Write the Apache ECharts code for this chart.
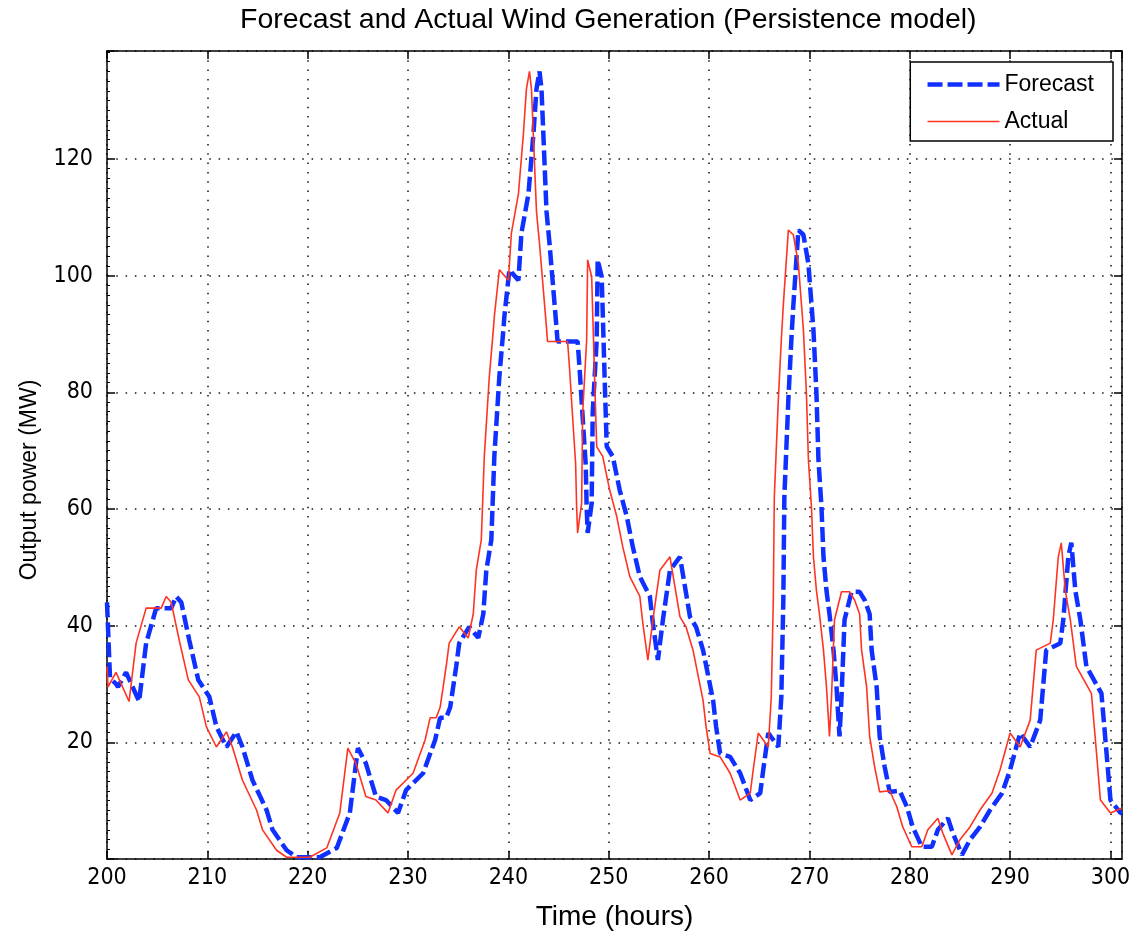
<!DOCTYPE html>
<html>
<head>
<meta charset="utf-8">
<script src="https://cdn.jsdelivr.net/npm/echarts@6/dist/echarts.min.js"></script>
<style>
  html, body { margin: 0; padding: 0; background: #fff; }
  #chart { width: 1136px; height: 939px; }
</style>
</head>
<body>
<div id="chart"></div>
<script>
// hours / MW (sub-hour steps where the trace jumps)
const actualHours = [200.0, 200.1, 200.9, 202.2, 202.9, 203.9, 205.4, 205.9, 206.4, 207.2, 208.1, 209.2, 209.9, 210.9, 211.9, 212.5, 213.5, 214.9, 215.5, 216.9, 217.9, 220.2, 221.9, 223.2, 224.0, 224.8, 225.8, 226.8, 228.0, 228.8, 230.5, 231.7, 232.2, 232.8, 233.2, 233.8, 234.1, 235.1, 236.0, 236.5, 236.8, 237.3, 237.6, 238.1, 238.5, 238.6, 239.1, 240.0, 240.3, 241.0, 241.5, 241.8, 242.1, 242.3, 242.8, 243.1, 243.8, 243.9, 245.9, 246.1, 246.4, 246.7, 246.8, 246.9, 247.3, 247.4, 247.8, 247.9, 248.3, 248.6, 248.8, 249.4, 250.1, 250.8, 251.4, 252.1, 253.1, 253.4, 253.9, 254.4, 255.1, 256.1, 256.7, 257.1, 257.7, 258.4, 259.4, 259.7, 260.1, 261.1, 262.1, 263.1, 264.1, 264.4, 264.9, 265.9, 266.2, 266.4, 266.5, 266.9, 267.2, 267.4, 267.9, 268.4, 268.9, 269.4, 269.7, 269.9, 270.2, 270.4, 270.7, 271.0, 271.4, 271.7, 272.0, 272.2, 272.5, 273.2, 274.0, 274.5, 275.0, 275.2, 275.7, 276.0, 276.5, 277.0, 278.0, 278.7, 279.3, 280.2, 281.2, 281.8, 282.8, 283.3, 284.2, 285.0, 286.0, 287.0, 288.2, 289.0, 290.0, 291.0, 292.0, 292.6, 293.3, 294.0, 294.3, 294.8, 295.1, 295.5, 296.0, 296.6, 298.1, 298.5, 299.0, 300.0, 301.1];
const actualMW = [33, 29.5, 32, 27, 37, 43, 43, 45, 44, 37.5, 30.7, 27.8, 22.7, 19.2, 21.8, 19.2, 13.5, 8.4, 5, 1.5, 0.3, 0.3, 1.9, 7.9, 19, 16.4, 10.7, 10.1, 7.9, 11.8, 14.7, 20.4, 24.2, 24.2, 26, 33, 37, 39.8, 37.9, 42, 49.5, 54.7, 69, 82.7, 90.7, 93, 101, 99.2, 107.3, 114, 124.4, 132, 135, 132, 111, 105.5, 91, 88.7, 88.7, 84, 75.8, 67.8, 60.4, 55.9, 61, 76.4, 89, 102.7, 99.8, 82, 70.7, 69, 63.2, 58.7, 53.5, 48.4, 45, 40.4, 34.1, 41, 49.5, 51.8, 45.6, 41.5, 39.8, 35.8, 27.2, 22.7, 18.1, 17.5, 14.7, 10.1, 11.3, 15.3, 21.6, 19.2, 27.8, 44.4, 62, 78.7, 89, 95, 107.8, 107, 102, 90.7, 79.8, 68.4, 60.4, 51.8, 46, 42, 35.8, 29.5, 21, 27.8, 41, 45.8, 45.8, 44.4, 42, 35.8, 29.5, 21, 15.8, 11.5, 11.7, 9, 5.5, 2.1, 2.1, 5, 7, 4.4, 0.7, 3.3, 5.5, 8.4, 11.3, 15.3, 21.6, 19.2, 23.8, 35.8, 36.4, 37, 41, 51.8, 54.2, 46, 41, 33, 28.4, 20.4, 10.1, 7.9, 8.7];

const forecastHours = [200.0, 200.3, 200.9, 201.1, 201.9, 203.2, 203.9, 204.9, 206.4, 206.9, 207.4, 208.2, 209.1, 210.2, 210.9, 211.9, 212.9, 213.5, 214.5, 215.9, 216.5, 217.9, 218.9, 221.2, 222.9, 224.2, 225.0, 225.8, 226.8, 227.8, 229.0, 229.8, 231.5, 232.7, 233.2, 233.8, 234.2, 234.8, 235.1, 236.1, 237.0, 237.5, 237.8, 238.3, 238.6, 239.1, 239.5, 239.6, 240.1, 241.0, 241.3, 242.0, 242.5, 242.8, 243.1, 243.3, 243.8, 244.1, 244.8, 244.9, 246.9, 247.1, 247.4, 247.7, 247.8, 247.9, 248.3, 248.4, 248.8, 248.9, 249.3, 249.6, 249.8, 250.4, 251.1, 251.8, 252.4, 253.1, 254.1, 254.4, 254.9, 255.4, 256.1, 257.1, 257.7, 258.1, 258.7, 259.4, 260.4, 260.7, 261.1, 262.1, 263.1, 264.1, 265.1, 265.4, 265.9, 266.9, 267.2, 267.4, 267.5, 267.9, 268.2, 268.4, 268.9, 269.4, 269.9, 270.4, 270.7, 270.9, 271.2, 271.4, 271.7, 272.0, 272.4, 272.7, 273.0, 273.2, 273.5, 274.2, 275.0, 275.5, 276.0, 276.2, 276.7, 277.0, 277.5, 278.0, 279.0, 279.7, 280.3, 281.2, 282.2, 282.8, 283.8, 284.3, 285.2, 286.0, 287.0, 288.0, 289.2, 290.0, 291.0, 292.0, 293.0, 293.6, 294.3, 295.0, 295.3, 295.8, 296.1, 296.5, 297.0, 297.6, 299.1, 299.5, 300.0, 301.0, 301.15];
const forecastMW = [44, 31, 30, 29.5, 32, 27, 37, 43, 43, 45, 44, 37.5, 30.7, 27.8, 22.7, 19.2, 21.8, 19.2, 13.5, 8.4, 5, 1.5, 0.3, 0.3, 1.9, 7.9, 19, 16.4, 10.7, 10.1, 7.9, 11.8, 14.7, 20.4, 24.2, 24.2, 26, 33, 37, 39.8, 37.9, 42, 49.5, 54.7, 69, 82.7, 90.7, 93, 101, 99.2, 107.3, 114, 124.4, 132, 135, 132, 111, 105.5, 91, 88.7, 88.7, 84, 75.8, 67.8, 60.4, 55.9, 61, 76.4, 89, 102.7, 99.8, 82, 70.7, 69, 63.2, 58.7, 53.5, 48.4, 45, 40.4, 34.1, 41, 49.5, 51.8, 45.6, 41.5, 39.8, 35.8, 27.2, 22.7, 18.1, 17.5, 14.7, 10.1, 11.3, 15.3, 21.6, 19.2, 27.8, 44.4, 62, 78.7, 89, 95, 107.8, 107, 102, 90.7, 79.8, 68.4, 60.4, 51.8, 46, 42, 35.8, 29.5, 21, 27.8, 41, 45.8, 45.8, 44.4, 42, 35.8, 29.5, 21, 15.8, 11.5, 11.7, 9, 5.5, 2.1, 2.1, 5, 7, 4.4, 0.7, 3.3, 5.5, 8.4, 11.3, 15.3, 21.6, 19.2, 23.8, 35.8, 36.4, 37, 41, 51.8, 54.2, 46, 41, 33, 28.4, 20.4, 10.1, 7.9, 7.9];

const xMin = 200, xMax = 301.15, xStep = 10;
const yMin = 0, yMax = 138.5, yStep = 20;

const sansFont = "'Liberation Sans', Arial, sans-serif";
const narrowFont = "'Liberation Sans Narrow', 'DejaVu Sans Condensed', sans-serif";

const blue = "#1030ff";
const red = "#ff3322";
const forecastLine = { color: blue, width: 4.5, type: [15, 5], cap: "butt" };
const actualLine = { color: red, width: 1.6 };

const pairs = (xs, ys) => xs.map((x, i) => [x, ys[i]]);

const gridDots = { show: true, lineStyle: { color: "#111", width: 1.5, type: [1.5, 7.8] } };

const chart = echarts.init(document.getElementById("chart"));
chart.setOption({
  animation: false,
  backgroundColor: "#fff",
  title: {
    text: "Forecast and Actual Wind Generation (Persistence model)",
    left: 240,
    top: 6,
    padding: 0,
    textStyle: { fontFamily: sansFont, fontSize: 28.5, fontWeight: "normal", color: "#000" },
  },
  legend: {
    orient: "vertical",
    right: 23,
    top: 62,
    padding: [11, 19, 8, 15],
    itemWidth: 72,
    itemHeight: 20,
    itemGap: 14,
    backgroundColor: "#fff",
    borderColor: "#000",
    borderWidth: 1.5,
    borderRadius: 0,
    itemStyle: { opacity: 0 },
    textStyle: { fontFamily: sansFont, fontSize: 23, color: "#000" },
    data: [
      { name: "Forecast", lineStyle: forecastLine },
      { name: "Actual", lineStyle: actualLine },
    ],
  },
  grid: { left: 107, right: 14, top: 51, bottom: 80, outerBoundsMode: "none" },
  xAxis: [
    {
      type: "value",
      min: xMin,
      max: xMax,
      interval: xStep,
      name: "Time (hours)",
      nameLocation: "middle",
      nameGap: 44,
      nameTextStyle: { fontFamily: sansFont, fontSize: 28, color: "#000" },
      axisLine: { show: true, onZero: false, lineStyle: { color: "#000", width: 1.5 } },
      axisTick: { show: true, inside: true, length: 8, lineStyle: { color: "#000", width: 1.5 } },
      axisLabel: { show: true, margin: 8, showMaxLabel: false, color: "#000", fontFamily: narrowFont, fontSize: 23 },
      splitLine: gridDots,
    },
    {
      type: "value",
      position: "top",
      min: xMin,
      max: xMax,
      interval: xStep,
      axisLine: { show: true, onZero: false, lineStyle: { color: "#000", width: 1.5 } },
      axisTick: { show: true, inside: true, length: 8, lineStyle: { color: "#000", width: 1.5 } },
      axisLabel: { show: false },
      splitLine: { show: false },
    },
  ],
  yAxis: [
    {
      type: "value",
      min: yMin,
      max: yMax,
      interval: yStep,
      name: "Output power (MW)",
      nameLocation: "middle",
      nameGap: 66,
      nameTextStyle: { fontFamily: sansFont, fontSize: 23, color: "#000", padding: [0, 50, 0, 0] },
      axisLine: { show: true, onZero: false, lineStyle: { color: "#000", width: 1.5 } },
      axisTick: { show: true, inside: true, length: 8, lineStyle: { color: "#000", width: 1.5 } },
      minorTick: { show: true, splitNumber: 12, length: 3, lineStyle: { color: "#000", width: 1 } },
      axisLabel: { show: true, margin: 14, showMinLabel: false, showMaxLabel: false, color: "#000", fontFamily: narrowFont, fontSize: 23 },
      splitLine: gridDots,
    },
    {
      type: "value",
      position: "right",
      min: yMin,
      max: yMax,
      interval: yStep,
      axisLine: { show: true, onZero: false, lineStyle: { color: "#000", width: 1.5 } },
      axisTick: { show: true, inside: true, length: 8, lineStyle: { color: "#000", width: 1.5 } },
      axisLabel: { show: false },
      splitLine: { show: false },
    },
  ],
  series: [
    {
      name: "Forecast",
      type: "line",
      symbol: "none",
      xAxisIndex: 0,
      yAxisIndex: 0,
      itemStyle: { color: blue },
      lineStyle: forecastLine,
      data: pairs(forecastHours, forecastMW),
    },
    {
      name: "Actual",
      type: "line",
      symbol: "none",
      xAxisIndex: 0,
      yAxisIndex: 0,
      itemStyle: { color: red },
      lineStyle: actualLine,
      data: pairs(actualHours, actualMW),
    },
  ],
});
</script>
</body>
</html>
